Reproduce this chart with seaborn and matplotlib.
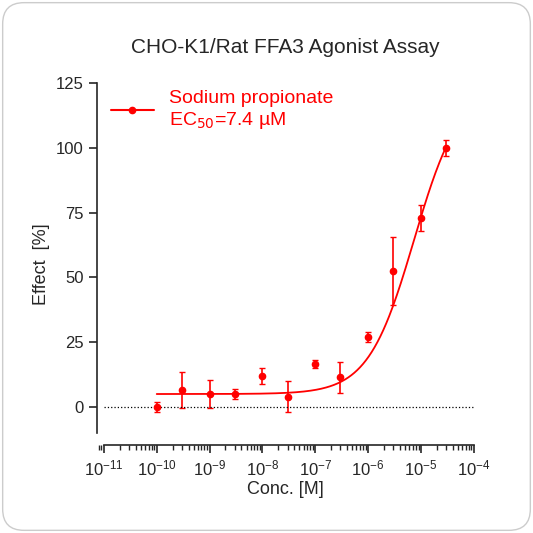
import numpy as np
import matplotlib
matplotlib.use("Agg")
import matplotlib.pyplot as plt
import seaborn as sns
from matplotlib.patches import FancyBboxPatch
from matplotlib.ticker import LogLocator, NullFormatter

conc = [1e-10, 3e-10, 1e-9, 3e-9, 1e-8, 3e-8, 1e-7, 3e-7, 1e-6, 3e-6, 1e-5, 3e-5]
effect = [0, 6.5, 5, 5, 12, 4, 16.5, 11.5, 27, 52.5, 73, 100]
err = [2, 7, 5.5, 2, 3, 6, 1.5, 6, 2, 13, 5, 3]

# fitted 4PL curve
bottom, top, ec50, hill = 5, 124, 7.4e-6, 1.0

sns.set_style("ticks")
plt.rcParams['font.family'] = ['Liberation Sans', 'DejaVu Sans']
red = "#ff0000"

fig = plt.figure(figsize=(5.33, 5.33), dpi=100)
bg = FancyBboxPatch((0.005, 0.005), 0.99, 0.99, boxstyle="round,pad=0,rounding_size=0.04",
                    transform=fig.transFigure, facecolor="white", edgecolor="#cccccc", lw=1, zorder=-10)
fig.patches.append(bg)
ax = fig.add_axes([0.182, 0.165, 0.707, 0.679])
ax.set_facecolor("none")

xs = np.logspace(-10, np.log10(3e-5), 300)
ys = bottom + (top - bottom) / (1 + (ec50 / xs) ** hill)
sns.lineplot(x=xs, y=ys, ax=ax, color=red, lw=1.3)
ax.errorbar(conc, effect, yerr=err, fmt="o", color=red, ms=4.5, capsize=2.5, elinewidth=1.2)
ax.plot([], [], "-o", color=red, ms=4.5, label="Sodium propionate\nEC$_{50}$=7.4 µM")
ax.plot([1e-11, 1e-4], [0, 0], ":", color="black", lw=0.9)

ax.set_xscale("log")
ax.set_xlim(10 ** -11.13, 1e-4)
ax.set_ylim(-14.7, 125)
ax.set_yticks([0, 25, 50, 75, 100, 125])
ax.xaxis.set_major_locator(LogLocator(base=10, numticks=20))
ax.xaxis.set_minor_locator(LogLocator(base=10, subs=np.arange(2, 10), numticks=200))
ax.xaxis.set_minor_formatter(NullFormatter())
ax.spines["top"].set_visible(False)
ax.spines["right"].set_visible(False)
ax.spines["left"].set_bounds(-10, 125)
ax.spines["bottom"].set_bounds(1e-11, 1e-4)
for s in ("left", "bottom"):
    ax.spines[s].set_linewidth(1.2)
ax.tick_params(axis="both", which="major", length=6, width=1.2, labelsize=12)
ax.tick_params(axis="x", which="minor", length=3.5, width=1)

ax.set_xlabel("Conc. [M]", fontsize=13, labelpad=2)
ax.set_ylabel("Effect  [%]", fontsize=13)
ax.set_title("CHO-K1/Rat FFA3 Agonist Assay", fontsize=15, pad=22)
leg = ax.legend(loc="upper left", bbox_to_anchor=(-0.01, 1.03), frameon=False, fontsize=14,
                handlelength=2.2, labelcolor=red)

fig.savefig("out.png", dpi=100)
